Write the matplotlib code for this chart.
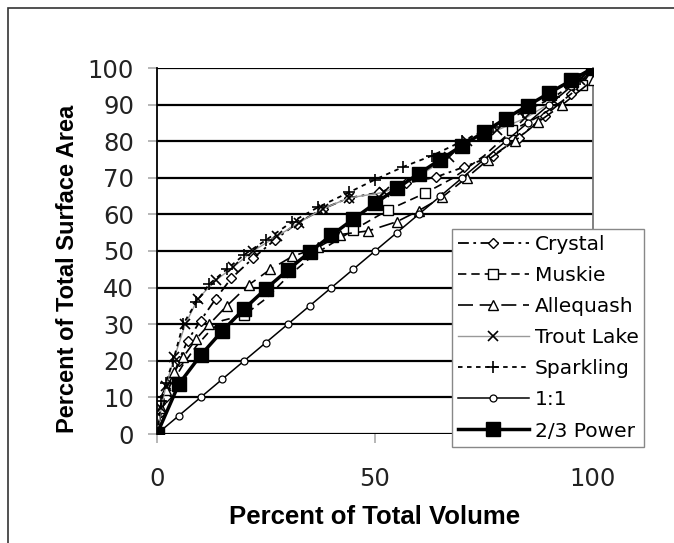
import matplotlib
matplotlib.use("Agg")
import matplotlib.pyplot as plt
from matplotlib.patches import Rectangle

# ---- data ----
crystal_x = [0, 1, 2, 3.5, 5, 7, 10, 13.5, 17, 22, 27, 32, 38, 44, 51, 57, 64, 70.5, 77, 83, 89, 95, 100]
crystal_y = [0, 6, 10, 15, 20, 25.5, 31, 37, 42.5, 48, 53, 57.5, 61.5, 64.5, 66, 68.5, 70.2, 73, 76, 81, 87, 93, 100]

muskie_x = [0, 1, 2, 4, 6, 9, 12, 15, 20, 25, 30, 36, 45, 53, 61.5, 68, 75, 81.5, 88, 93, 97.5, 100]
muskie_y = [0, 6, 10, 15, 19, 24, 28, 31, 32.5, 37, 43, 49, 55.7, 61.2, 65.8, 70, 76, 83, 87, 91, 95.4, 100]

allequash_x = [0, 1, 2, 4, 6, 9, 12, 16, 21, 26, 31, 37, 42, 48.5, 55, 60, 65.4, 71, 76, 82, 87.4, 93, 100]
allequash_y = [0, 7, 12, 17, 21, 26, 30, 35, 40.7, 45, 48.5, 51, 54.5, 55.5, 58, 61, 64.7, 70, 75, 80, 85.2, 90, 96.7]

trout_x = [0, 1, 2, 4, 6.5, 9.4, 13.5, 17.5, 22, 27.5, 32.5, 38, 44, 52, 60, 67, 71, 78, 84.5, 91, 97, 100]
trout_y = [0, 7, 13, 21, 30, 37, 42, 45.6, 50, 54, 57.7, 61.5, 64.5, 66, 70.5, 75.7, 80, 83, 86.3, 91, 96.7, 100]

sparkling_x = [0, 1, 2, 3.7, 6, 9, 12, 16, 20, 25, 31, 37, 44, 50, 56.5, 63, 70, 77, 84, 91, 97, 100]
sparkling_y = [0, 9, 14, 20, 30, 36, 41, 45, 49, 53, 58, 62, 66, 69.5, 73, 76, 80, 84, 88, 92, 97, 100]

one_x = [0, 5, 10, 15, 20, 25, 30, 35, 40, 45, 50, 55, 60, 65, 70, 75, 80, 85, 90, 95, 100]
one_y = [0, 5, 10, 15, 20, 25, 30, 35, 40, 45, 50, 55, 60, 65, 70, 75, 80, 85, 90, 95, 100]

power_x = [0, 5, 10, 15, 20, 25, 30, 35, 40, 45, 50, 55, 60, 65, 70, 75, 80, 85, 90, 95, 100]
power_y = [0, 13.6, 21.5, 28.2, 34.2, 39.7, 44.8, 49.7, 54.3, 58.7, 63.0, 67.1, 71.1, 75.0, 78.8, 82.5, 86.2, 89.7, 93.2, 96.6, 100]

x_ticks = [0, 50, 100]
y_ticks = [0, 10, 20, 30, 40, 50, 60, 70, 80, 90, 100]

# ---- figure ----
fig = plt.figure(figsize=(6.74, 5.43), dpi=100)
fig.patch.set_facecolor("white")
fig.patches.append(Rectangle((8/674, -0.5), 2.0, 1 - 8/543 + 0.5, transform=fig.transFigure,
                             fill=False, edgecolor="#333333", linewidth=1.2, zorder=0))

ax = fig.add_axes([157/674, 1 - 434/543, (593-157)/674, (434-68)/543])
ax.set_xlim(0, 100)
ax.set_ylim(0, 100)

for yv in y_ticks:
    ax.axhline(yv, color="black", linewidth=1.6, zorder=1)

ax.plot(crystal_x, crystal_y, color="black", linewidth=1.3, dashes=(6, 2.5, 1.5, 2.5),
        marker="D", markersize=5.5, markerfacecolor="white", markeredgecolor="black",
        markeredgewidth=1, label="Crystal", zorder=3)
ax.plot(muskie_x, muskie_y, color="black", linewidth=1.2, dashes=(5, 3),
        marker="s", markersize=7, markerfacecolor="white", markeredgecolor="black",
        markeredgewidth=1, markevery=[0, 8, 12, 13, 14, 17, 20], label="Muskie", zorder=3)
ax.plot(allequash_x, allequash_y, color="black", linewidth=1.2, dashes=(9, 4),
        marker="^", markersize=7, markerfacecolor="white", markeredgecolor="black",
        markeredgewidth=1, label="Allequash", zorder=3)
ax.plot(trout_x, trout_y, color="#999999", linewidth=1.0,
        marker="x", markersize=7, markeredgecolor="black", markeredgewidth=1.2,
        label="Trout Lake", zorder=3)
ax.plot(sparkling_x, sparkling_y, color="black", linewidth=1.3, dashes=(2.5, 2.5),
        marker="+", markersize=8, markeredgecolor="black", markeredgewidth=1.2,
        label="Sparkling", zorder=3)
ax.plot(one_x, one_y, color="black", linewidth=1.1,
        marker="o", markersize=5, markerfacecolor="white", markeredgecolor="black",
        markeredgewidth=0.9, label="1:1", zorder=3)
ax.plot(power_x, power_y, color="black", linewidth=2.5,
        marker="s", markersize=10.5, markerfacecolor="black", markeredgecolor="black",
        label="2/3 Power", zorder=4)

for s in ["top", "bottom"]:
    ax.spines[s].set_visible(False)
ax.spines["left"].set_color("black")
ax.spines["left"].set_linewidth(1.3)
ax.spines["right"].set_color("#777777")
ax.spines["right"].set_linewidth(1.3)

ax.set_xticks(x_ticks)
ax.set_yticks(y_ticks)
ax.tick_params(axis="both", direction="out", length=6.5, width=1.2, color="#aaaaaa",
               labelsize=17.5, labelcolor="#222222")
ax.tick_params(axis="y", pad=10)
ax.tick_params(axis="x", pad=17)

ax.set_xlabel("Percent of Total Volume", fontsize=18.5, fontweight="bold",
              family="Liberation Sans", labelpad=10)
ax.set_ylabel("Percent of Total Surface Area", fontsize=17, fontweight="bold",
              family="Liberation Sans", labelpad=5)
ax.yaxis.set_label_coords(-0.18, 0.45)

leg = ax.legend(loc="upper left", bbox_to_anchor=(452/674, 1 - 229/543),
                bbox_transform=fig.transFigure, frameon=True, fancybox=False,
                edgecolor="#888888", framealpha=1, fontsize=14.5, handlelength=3.5,
                handletextpad=0.3, labelspacing=0.6, borderpad=0.3, borderaxespad=0)
leg.get_frame().set_linewidth(1.0)
leg.set_zorder(10)

fig.savefig("out.png", dpi=100, facecolor="white")
